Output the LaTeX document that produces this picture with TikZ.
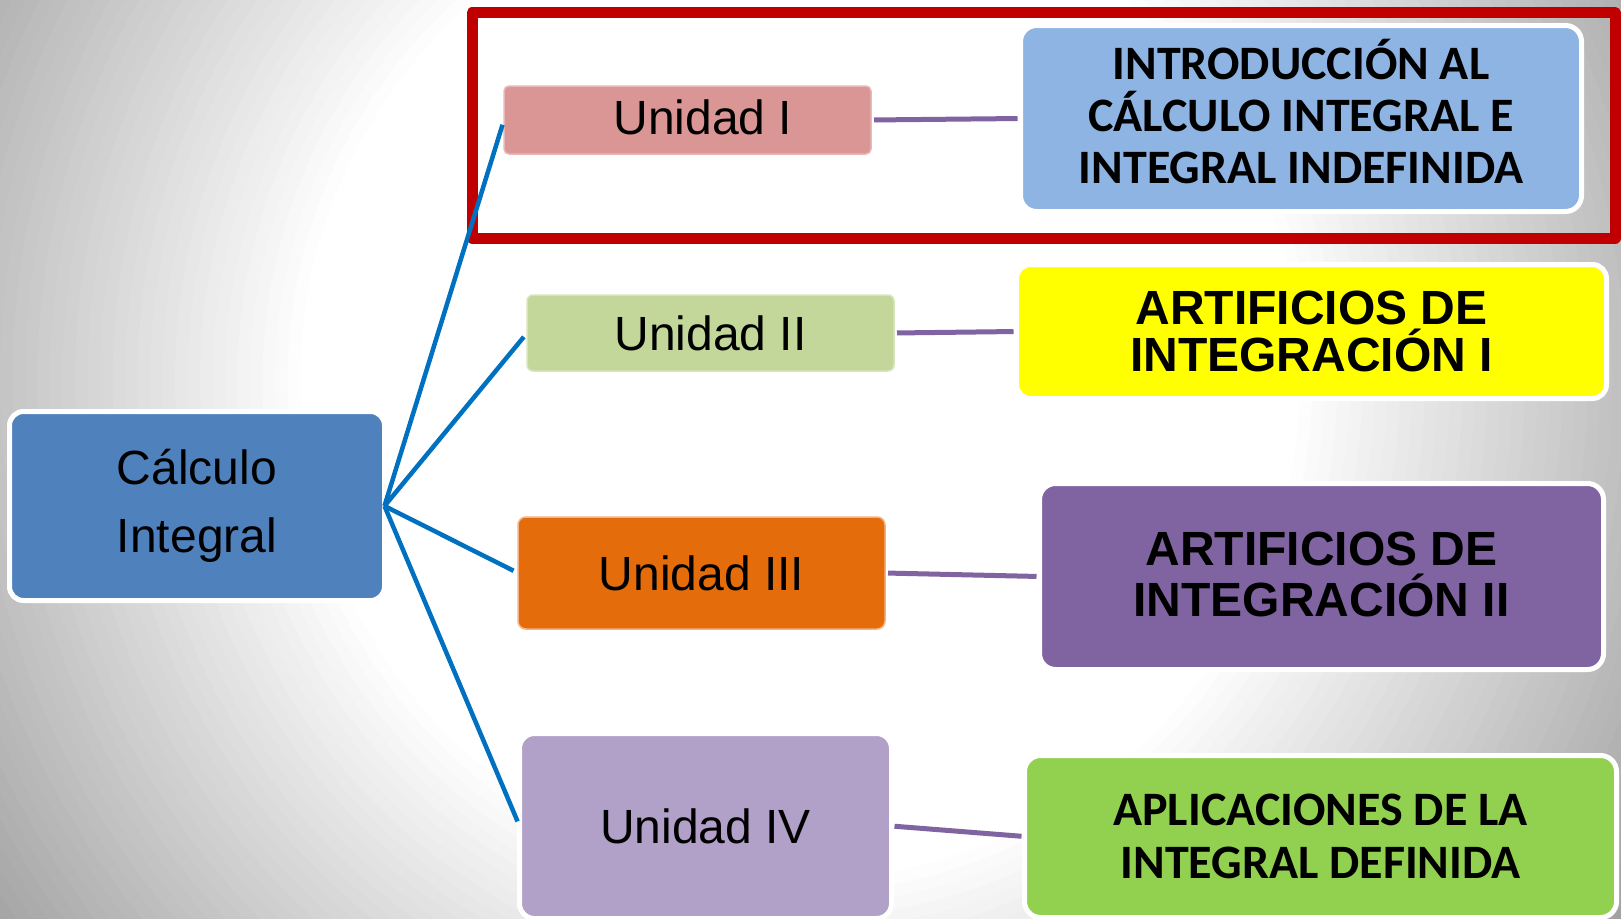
\documentclass[tikz,border=0pt]{standalone}
\usepackage{fontspec}
\newfontfamily\arialf{Liberation Sans}
\newfontfamily\calibf{Carlito}
\usetikzlibrary{calc}

\definecolor{calcBlue}{HTML}{4F81BD}
\definecolor{uOne}{HTML}{DA9694}
\definecolor{uOneB}{HTML}{E6B9B8}
\definecolor{uTwo}{HTML}{C4D79B}
\definecolor{uTwoB}{HTML}{D8E4BC}
\definecolor{uThree}{HTML}{E46C0A}
\definecolor{uThreeB}{HTML}{F4B183}
\definecolor{uFour}{HTML}{B1A0C7}
\definecolor{introBlue}{HTML}{8DB4E2}
\definecolor{artYellow}{HTML}{FFFF00}
\definecolor{artPurple}{HTML}{8064A2}
\definecolor{aplGreen}{HTML}{92D050}
\definecolor{linkBlue}{HTML}{0070C0}
\definecolor{linkPurple}{HTML}{8064A2}
\definecolor{frameRed}{HTML}{C00000}

\tikzset{
  box/.style={rectangle, align=center, inner sep=0pt, outer sep=0pt, text=black},
  wbox/.style={box, draw=white, line width=5pt},
  unitfont/.style={font=\arialf\fontsize{48}{58}\selectfont},
  calibold/.style={font=\calibf\bfseries\fontsize{48}{52}\selectfont},
  arialbold/.style={font=\arialf\bfseries\fontsize{48}{47}\selectfont},
  blueline/.style={draw=linkBlue, line width=4.5pt, shorten >=5pt},
  purpleline/.style={draw=linkPurple, line width=5pt, shorten <=3pt, shorten >=3pt},
  redframe/.style={draw=frameRed, line width=11pt, line join=round}
}

\begin{document}
\begin{tikzpicture}[x=1pt, y=-1pt]
\useasboundingbox (0,0) rectangle (1621,918);
% background: radial grey-to-white
\begin{scope}
  \clip (0,0) rectangle (1621,918);
  \fill[black!38] (0,0) rectangle (1621,918);
  \foreach \i in {0,...,40}{
    \pgfmathsetmacro{\rr}{1000-\i*12.5}
    \pgfmathsetmacro{\pp}{min(37,max(0,(\rr-500)*0.0754))}
    \fill[black!\pp] (800,380) circle (\rr);
  }
\end{scope}

% highlight frame
\draw[redframe] (472,12.5) rectangle (1615,238);

% root
\node[wbox, fill=calcBlue, rounded corners=14pt, minimum width=375pt, minimum height=189pt,
      font=\arialf\fontsize{48}{68}\selectfont] (calc) at (197,506) {Cálculo\\Integral};

% units
\node[box, unitfont, fill=uOne, draw=uOneB, line width=1.5pt, rounded corners=5pt,
      minimum width=367pt, minimum height=68pt] (u1) at (687.5,120) {\hspace*{31pt}Unidad I\rule[-5pt]{0pt}{5pt}};
\node[box, unitfont, fill=uTwo, draw=uTwoB, line width=1.5pt, rounded corners=6pt,
      minimum width=367pt, minimum height=76pt] (u2) at (710.5,333) {Unidad II};
\node[box, unitfont, fill=uThree, draw=uThreeB, line width=1.5pt, rounded corners=8pt,
      minimum width=367pt, minimum height=112pt] (u3) at (701.5,573) {Unidad III};
\node[wbox, unitfont, fill=uFour, rounded corners=15pt,
      minimum width=372pt, minimum height=185pt] (u4) at (705.5,826) {Unidad IV};

% topics
\node[wbox, calibold, fill=introBlue, rounded corners=16pt,
      minimum width=561pt, minimum height=186pt] (intro) at (1301,118.5)
      {INTRODUCCIÓN AL\\CÁLCULO INTEGRAL E\\INTEGRAL INDEFINIDA\rule[-14pt]{0pt}{14pt}};
\node[wbox, arialbold, fill=artYellow, rounded corners=14pt,
      minimum width=590pt, minimum height=134pt] (art1) at (1311.5,331.5)
      {ARTIFICIOS DE\\INTEGRACIÓN I};
\node[wbox, arialbold, fill=artPurple, rounded corners=16pt,
      minimum width=564pt, minimum height=186pt,
      font=\arialf\bfseries\fontsize{48}{51}\selectfont] (art2) at (1321.5,576.5)
      {ARTIFICIOS DE\\INTEGRACIÓN II\rule[-5pt]{0pt}{5pt}};
\node[wbox, calibold, fill=aplGreen, rounded corners=16pt,
      minimum width=592pt, minimum height=162pt,
      font=\calibf\bfseries\fontsize{48}{53}\selectfont] (apl) at (1320.5,836.5)
      {APLICACIONES DE LA\\INTEGRAL DEFINIDA};

% connectors
\draw[blueline] (calc.east) -- (u1.west);
\draw[blueline] (calc.east) -- (u2.west);
\draw[blueline] (calc.east) -- (u3.west);
\draw[blueline] (calc.east) -- (u4.west);

\draw[purpleline] (u1.east) -- (intro.west);
\draw[purpleline] (u2.east) -- (art1.west);
\draw[purpleline] (u3.east) -- (art2.west);
\draw[purpleline] (u4.east) -- (apl.west);
\end{tikzpicture}
\end{document}
